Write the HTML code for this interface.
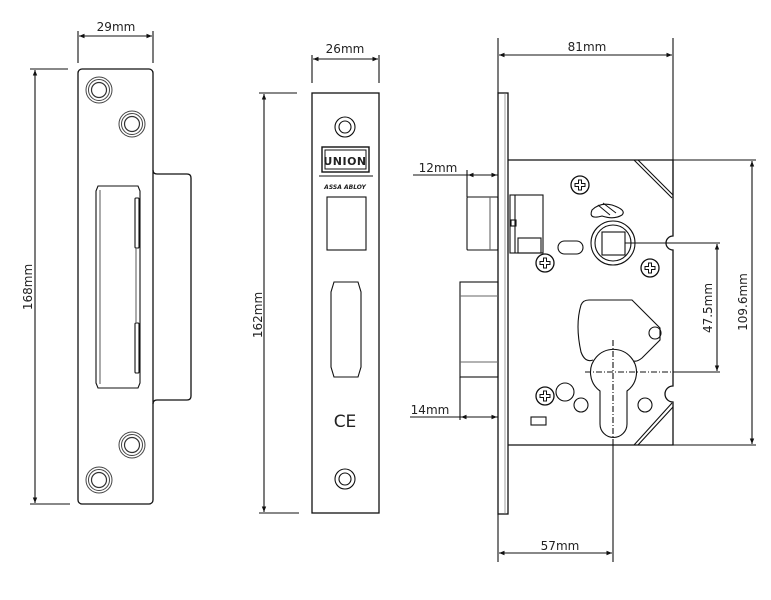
<!DOCTYPE html>
<html><head><meta charset="utf-8"><style>
html,body{margin:0;padding:0;background:#fff;}
svg{display:block;}
text{font-family:"DejaVu Sans","Liberation Sans",sans-serif;font-size:12px;fill:#222;}
</style></head><body>
<svg width="771" height="600" viewBox="0 0 771 600" xmlns="http://www.w3.org/2000/svg">
<defs>
<marker id="a" viewBox="0 0 10 10" refX="10" refY="5" markerWidth="7" markerHeight="5" orient="auto-start-reverse"><path d="M0,1 L10,5 L0,9 z" fill="#111"/></marker>
<g id="scr"><circle r="9" fill="#fff" stroke="#111" stroke-width="1.3"/><path d="M-1.5,-5 h3 v3.5 h3.5 v3 h-3.5 v3.5 h-3 v-3.5 h-3.5 v-3 h3.5 z" fill="none" stroke="#111" stroke-width="1"/></g>
<g id="hole"><circle r="13" fill="none" stroke="#444" stroke-width="1"/><circle r="10.5" fill="none" stroke="#444" stroke-width="1"/><circle r="7.5" fill="none" stroke="#333" stroke-width="1.2"/></g>
</defs>
<g fill="none" stroke="#111" stroke-width="1.1">
<!-- LEFT STRIKE -->
<line x1="78" y1="31" x2="78" y2="63"/><line x1="153" y1="31" x2="153" y2="63"/>
<line x1="79" y1="36" x2="152" y2="36" marker-start="url(#a)" marker-end="url(#a)"/>
<line x1="30" y1="69" x2="68" y2="69"/><line x1="30" y1="504" x2="70" y2="504"/>
<line x1="35" y1="70" x2="35" y2="503" marker-start="url(#a)" marker-end="url(#a)"/>
<rect x="78" y="69" width="75" height="435" rx="4" stroke-width="1.3"/>
<path d="M153,170 q0,4 4,4 h30 q4,0 4,4 v218 q0,4 -4,4 h-30 q-4,0 -4,4" stroke-width="1.3"/>
<path d="M98,186 h40 l2,5 v192 l-2,5 h-40 l-2,-5 v-192 z"/>
<line x1="100" y1="190" x2="100" y2="384" stroke="#666"/>
<rect x="135" y="198" width="4" height="50" rx="1"/><rect x="135" y="323" width="4" height="50" rx="1"/>
<line x1="136" y1="248" x2="136" y2="323" stroke="#666"/>
</g>
<use href="#hole" x="99" y="90"/><use href="#hole" x="132" y="124"/><use href="#hole" x="132" y="445"/><use href="#hole" x="99" y="480"/>
<text x="116" y="31" text-anchor="middle">29mm</text>
<text transform="translate(32,287) rotate(-90)" text-anchor="middle">168mm</text>

<!-- MIDDLE FACEPLATE -->
<g fill="none" stroke="#111" stroke-width="1.1">
<line x1="312" y1="55" x2="312" y2="83"/><line x1="379" y1="55" x2="379" y2="83"/>
<line x1="313" y1="59" x2="378" y2="59" marker-start="url(#a)" marker-end="url(#a)"/>
<line x1="259" y1="93" x2="297" y2="93"/><line x1="259" y1="513" x2="299" y2="513"/>
<line x1="264" y1="94" x2="264" y2="512" marker-start="url(#a)" marker-end="url(#a)"/>
<rect x="312" y="93" width="67" height="420" stroke-width="1.3"/>
<circle cx="345" cy="127" r="10"/><circle cx="345" cy="127" r="6"/>
<circle cx="345" cy="479" r="10"/><circle cx="345" cy="479" r="6"/>
<rect x="322" y="147" width="47" height="25" stroke-width="1.4"/>
<rect x="325" y="150" width="41" height="19" stroke-width="1"/>
<line x1="319" y1="176" x2="373" y2="176" stroke-width="1"/>
<rect x="327" y="197" width="39" height="53"/>
<path d="M334,282 h24 l3,10 v75 l-3,10 h-24 l-3,-10 v-75 z"/>
</g>
<text x="345" y="165" text-anchor="middle" style="font-size:11px;font-weight:bold;letter-spacing:0.5px">UNION</text>
<text x="345" y="189" text-anchor="middle" style="font-size:6px;font-weight:bold;font-style:italic">ASSA ABLOY</text>
<text x="345" y="427" text-anchor="middle" style="font-size:17px">CE</text>
<text x="345" y="53" text-anchor="middle">26mm</text>
<text transform="translate(262,315) rotate(-90)" text-anchor="middle">162mm</text>

<!-- RIGHT LOCK BODY -->
<g fill="none" stroke="#111" stroke-width="1.1">
<line x1="498" y1="38" x2="498" y2="93"/><line x1="498" y1="514" x2="498" y2="562"/>
<line x1="673" y1="38" x2="673" y2="200"/>
<line x1="499" y1="55" x2="672" y2="55" marker-start="url(#a)" marker-end="url(#a)"/>
<rect x="498" y="93" width="10" height="421" stroke-width="1.3"/>
<line x1="505" y1="93" x2="505" y2="514" stroke="#777" stroke-width="0.7"/>
<path d="M508,160 H673 V236 a7,7 0 0 0 0,14 V386 a8,8 0 0 0 0,16 V445 H508" stroke-width="1.3"/>
<path d="M634,160 L672,198 M638,160 L673,195" />
<path d="M672,403 L634,445 M673,407 L638,445"/>
<!-- latch -->
<rect x="467" y="197" width="31" height="53" rx="1"/>
<line x1="490" y1="197" x2="490" y2="250" stroke="#666"/>
<line x1="413" y1="175" x2="498" y2="175"/>
<line x1="467" y1="170" x2="467" y2="197"/>
<line x1="468" y1="175" x2="497" y2="175" marker-start="url(#a)" marker-end="url(#a)"/>
<!-- deadbolt -->
<rect x="460" y="282" width="38" height="95"/>
<line x1="460" y1="296" x2="498" y2="296" stroke="#666"/><line x1="460" y1="362" x2="498" y2="362" stroke="#666"/>
<line x1="410" y1="417" x2="498" y2="417"/>
<line x1="460" y1="377" x2="460" y2="420"/>
<line x1="461" y1="417" x2="497" y2="417" marker-start="url(#a)" marker-end="url(#a)"/>
<!-- mechanism -->
<rect x="510" y="195" width="33" height="58"/>
<line x1="515" y1="195" x2="515" y2="253"/>
<rect x="518" y="238" width="23" height="15"/>
<rect x="511" y="220" width="5" height="6"/>
<line x1="520" y1="195" x2="542" y2="195" stroke-dasharray="1 1"/>
<!-- slot -->
<rect x="558" y="241" width="25" height="13" rx="6.5"/>
<path d="M592,210 q8,-8 20,-5 q15,5 10,10 q-8,5 -20,1 q-14,4 -10,-6 z"/>
<path d="M598,205 l12,10 M603,203 l13,10" stroke-width="1"/>
<!-- spindle -->
<circle cx="613" cy="243" r="22"/><circle cx="613" cy="243" r="18"/>
<rect x="602" y="232" width="23" height="23"/>
<!-- cam cavity -->
<path d="M593,360 Q585,363 581,352 Q575,325 581,305 Q583,300 589,300 H632 L660,328 L660,340 L642,358 Q637,362 634,361"/>
<circle cx="655" cy="333" r="6"/>
<path d="M600,391 A23,23 0 1 1 627,391 L627,424 A13.5,13.5 0 0 1 600,424 Z"/>
<circle cx="565" cy="392" r="9"/><circle cx="581" cy="405" r="7"/><circle cx="645" cy="405" r="7"/>
<rect x="531" y="417" width="15" height="8"/>
<!-- center lines -->
<line x1="585" y1="372" x2="673" y2="372" stroke-dasharray="6 2 1 2"/>
<line x1="613" y1="340" x2="613" y2="445" stroke-dasharray="6 2 1 2"/>
<line x1="613" y1="445" x2="613" y2="562"/>
<line x1="499" y1="553" x2="612" y2="553" marker-start="url(#a)" marker-end="url(#a)"/>
<line x1="625" y1="243" x2="720" y2="243"/>
<line x1="673" y1="372" x2="720" y2="372"/>
<line x1="717" y1="244" x2="717" y2="371" marker-start="url(#a)" marker-end="url(#a)"/>
<line x1="673" y1="160" x2="756" y2="160"/><line x1="673" y1="445" x2="756" y2="445"/>
<line x1="752" y1="161" x2="752" y2="444" marker-start="url(#a)" marker-end="url(#a)"/>
</g>
<use href="#scr" x="580" y="185"/><use href="#scr" x="545" y="263"/><use href="#scr" x="650" y="268"/><use href="#scr" x="545" y="396"/>
<text x="587" y="51" text-anchor="middle">81mm</text>
<text x="438" y="172" text-anchor="middle">12mm</text>
<text x="430" y="414" text-anchor="middle">14mm</text>
<text x="560" y="550" text-anchor="middle">57mm</text>
<text transform="translate(712,308) rotate(-90)" text-anchor="middle">47.5mm</text>
<text transform="translate(747,302) rotate(-90)" text-anchor="middle">109.6mm</text>
</svg>
</body></html>
